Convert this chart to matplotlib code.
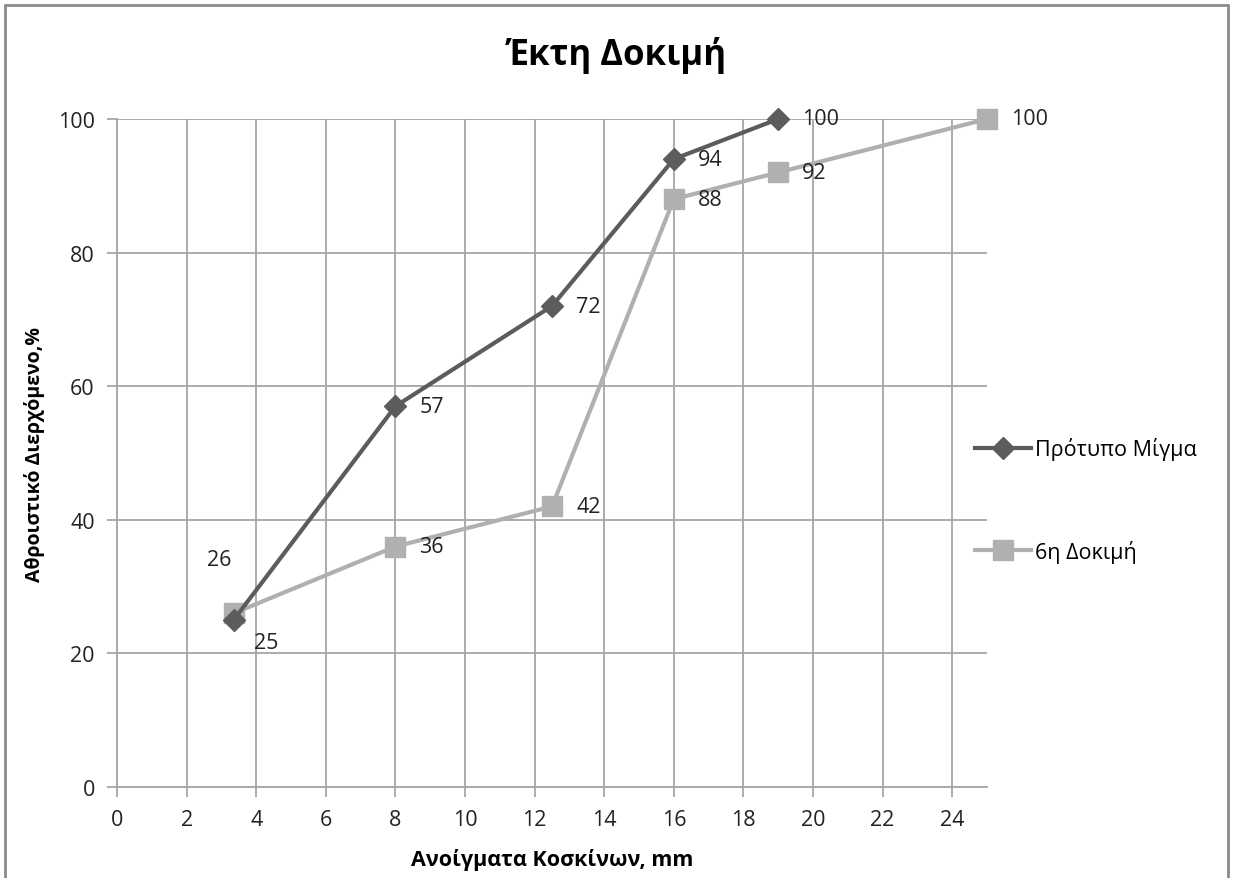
import matplotlib
matplotlib.use('Agg')
import matplotlib.pyplot as plt
from matplotlib.patches import Rectangle

plt.rcParams['font.family'] = ['Open Sans', 'DejaVu Sans']

# sieve openings (mm) and cumulative passing (%)
x_std = [3.35, 8, 12.5, 16, 19]
y_std = [25, 57, 72, 94, 100]
x_test = [3.35, 8, 12.5, 16, 19, 25]
y_test = [26, 36, 42, 88, 92, 100]

x_ticks = list(range(0, 25, 2))
y_ticks = list(range(0, 101, 20))

DARK = '#5c5c5c'
LIGHT = '#b0b0b0'
GRID = '#a6a6a6'
TXT = '#222222'

fig = plt.figure(figsize=(12.33, 8.79), dpi=100)
ax = fig.add_axes([0.0949, 0.1035, 0.8005 - 0.0949, 0.8635 - 0.1035])

ax.plot(x_std, y_std, color=DARK, linewidth=3, marker='D', markersize=11,
        label='Πρότυπο Μίγμα', zorder=4, clip_on=False)
ax.plot(x_test, y_test, color=LIGHT, linewidth=3, marker='s', markersize=14,
        label='6η Δοκιμή', zorder=3, clip_on=False)

# data labels
for x, y in zip(x_std, y_std):
    off = (20, -22) if y == 25 else (24, 0)
    ax.annotate(str(y), (x, y), xytext=off, textcoords='offset pixels',
                ha='left', va='center', fontsize=15.5, color=TXT, zorder=5)
for x, y in zip(x_test, y_test):
    if y == 26:
        off, ha = (-14, 54), 'center'
    else:
        off, ha = (24, 0), 'left'
    ax.annotate(str(y), (x, y), xytext=off, textcoords='offset pixels',
                ha=ha, va='center', fontsize=15.5, color=TXT, zorder=5)

ax.set_xlim(0, 25)
ax.set_ylim(0, 100)
ax.set_xticks(x_ticks)
ax.set_yticks(y_ticks)
ax.grid(True, color=GRID, linewidth=1.3)
ax.set_axisbelow(True)
for s in ['top', 'right']:
    ax.spines[s].set_visible(False)
for s in ['left', 'bottom']:
    ax.spines[s].set_color(GRID)
    ax.spines[s].set_linewidth(1.3)
ax.tick_params(axis='both', colors=GRID, labelcolor=TXT, labelsize=15.5,
               length=7, width=1.3, pad=9)

ax.set_xlabel('Ανοίγματα Κοσκίνων, mm', fontsize=15.5, fontweight='bold', labelpad=13)
ax.set_ylabel('Αθροιστικό Διερχόμενο,%', fontsize=14, fontweight='bold', labelpad=9)
fig.text(0.5, 0.937, 'Έκτη Δοκιμή', ha='center', va='center',
         fontsize=25, fontweight='bold')

fig.legend(loc='center left', bbox_to_anchor=(0.775, 0.43), frameon=False,
           fontsize=15.5, handlelength=2.6, labelspacing=3.7, handletextpad=0.2)

fig.patches.append(Rectangle((0.004, -0.01), 0.992, 1.003, transform=fig.transFigure,
                             fill=False, edgecolor='#8c8c8c', linewidth=2))

fig.savefig('out.png', dpi=100, facecolor='white')
